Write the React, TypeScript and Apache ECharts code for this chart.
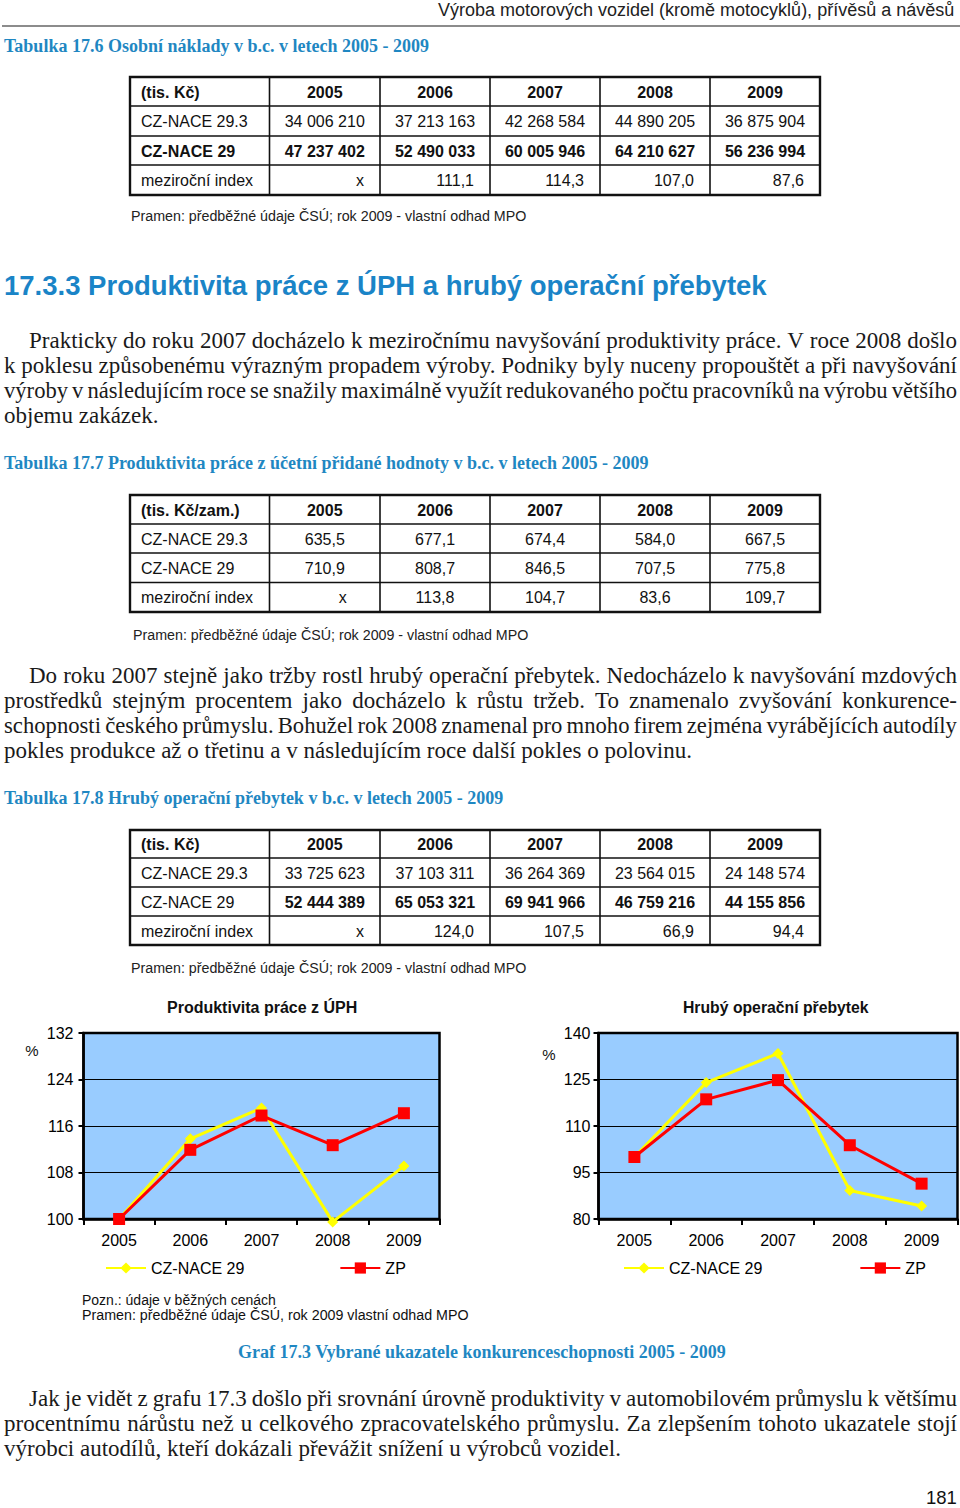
import React, { useEffect, useRef } from "react";
import * as echarts from "echarts";

const SANS = "'Liberation Sans', Arial, Helvetica, sans-serif";
const SERIF = "'Liberation Serif', 'Times New Roman', serif";
const TEAL = "#1f87c2";
const HEAD_BLUE = "#1a84c7";

const YEARS = ["2005", "2006", "2007", "2008", "2009"];
const NAME_A = "CZ-NACE 29";
const NAME_B = "ZP";
const PROD_CZNACE29 = [100, 113.8, 119.1, 99.5, 109.1];
const PROD_ZP = [100, 111.9, 117.8, 112.7, 118.2];
const GOS_CZNACE29 = [100, 124.0, 133.4, 89.2, 84.2];
const GOS_ZP = [100, 118.6, 124.8, 103.8, 91.4];
const PROD_AXIS = { min: 100, max: 132, interval: 8 };
const GOS_AXIS = { min: 80, max: 140, interval: 15 };

const HEADER_TEXT = "Výroba motorových vozidel (kromě motocyklů), přívěsů a návěsů";
const CAP1 = "Tabulka 17.6 Osobní náklady v b.c. v letech 2005 - 2009";
const CAP2 = "Tabulka 17.7 Produktivita práce z účetní přidané hodnoty v b.c. v letech 2005 - 2009";
const CAP3 = "Tabulka 17.8 Hrubý operační přebytek v b.c. v letech 2005 - 2009";
const SOURCE = "Pramen: předběžné údaje ČSÚ; rok 2009 - vlastní odhad MPO";
const HEADING = "17.3.3 Produktivita práce z ÚPH a hrubý operační přebytek";
const CHART1_TITLE = "Produktivita práce z ÚPH";
const CHART2_TITLE = "Hrubý operační přebytek";
const NOTE1 = "Pozn.: údaje v běžných cenách";
const NOTE2 = "Pramen: předběžné údaje ČSÚ, rok 2009 vlastní odhad MPO";
const GRAF_CAP = "Graf 17.3 Vybrané ukazatele konkurenceschopnosti 2005 - 2009";
const PAGE_NO = "181";

const T1_HEAD = ["(tis. Kč)", ...YEARS];
const T1_ROWS = [
  ["CZ-NACE 29.3", "34 006 210", "37 213 163", "42 268 584", "44 890 205", "36 875 904"],
  ["CZ-NACE 29", "47 237 402", "52 490 033", "60 005 946", "64 210 627", "56 236 994"],
  ["meziroční index", "x", "111,1", "114,3", "107,0", "87,6"],
];
const T2_HEAD = ["(tis. Kč/zam.)", ...YEARS];
const T2_ROWS = [
  ["CZ-NACE 29.3", "635,5", "677,1", "674,4", "584,0", "667,5"],
  ["CZ-NACE 29", "710,9", "808,7", "846,5", "707,5", "775,8"],
  ["meziroční index", "x", "113,8", "104,7", "83,6", "109,7"],
];
const T3_HEAD = ["(tis. Kč)", ...YEARS];
const T3_ROWS = [
  ["CZ-NACE 29.3", "33 725 623", "37 103 311", "36 264 369", "23 564 015", "24 148 574"],
  ["CZ-NACE 29", "52 444 389", "65 053 321", "69 941 966", "46 759 216", "44 155 856"],
  ["meziroční index", "x", "124,0", "107,5", "66,9", "94,4"],
];

const PARA1 = [
  "Prakticky do roku 2007 docházelo k meziročnímu navyšování produktivity práce. V roce 2008 došlo",
  "k poklesu způsobenému výrazným propadem výroby. Podniky byly nuceny propouštět a při navyšování",
  "výroby v následujícím roce se snažily maximálně využít redukovaného počtu pracovníků na výrobu většího",
  "objemu zakázek.",
];
const PARA2 = [
  "Do roku 2007 stejně jako tržby rostl hrubý operační přebytek. Nedocházelo k navyšování mzdových",
  "prostředků stejným procentem jako docházelo k růstu tržeb. To znamenalo zvyšování konkurence-",
  "schopnosti českého průmyslu. Bohužel rok 2008 znamenal pro mnoho firem zejména vyrábějících autodíly",
  "pokles produkce až o třetinu a v následujícím roce další pokles o polovinu.",
];
const PARA3 = [
  "Jak je vidět z grafu 17.3 došlo při srovnání úrovně produktivity v automobilovém průmyslu k většímu",
  "procentnímu nárůstu než u celkového zpracovatelského průmyslu. Za zlepšením tohoto ukazatele stojí",
  "výrobci autodílů, kteří dokázali převážit snížení u výrobců vozidel.",
];

const COLS = [130, 269.5, 380, 490, 600, 710, 820];

export default function App() {
  const ref = useRef<HTMLDivElement>(null);

  useEffect(() => {
    document.body.style.margin = "0";
    const canvas = document.createElement("canvas");
    const ctx = canvas.getContext("2d")!;
    const measure = (t: string, size: number, family: string, weight = "normal") => {
      ctx.font = `${weight} ${size}px ${family}`;
      return ctx.measureText(t).width;
    };
    const fit = (t: string, target: number, family: string, weight = "normal") =>
      Math.round((20 * target) / measure(t, 20, family, weight) * 4) / 4;

    const els: any[] = [];
    const txt = (
      text: string, x: number, y: number, size: number,
      o: { family?: string; weight?: string; color?: string; align?: string; scaleX?: number } = {}
    ) => {
      els.push({
        type: "text", x, y, silent: true, scaleX: o.scaleX ?? 1,
        style: {
          text, fontSize: size, fontFamily: o.family ?? SANS, fontWeight: o.weight ?? "normal",
          fill: o.color ?? "#111", align: o.align ?? "left", textAlign: o.align ?? "left",
          verticalAlign: "middle", textVerticalAlign: "middle",
        },
      });
    };
    const fitText = (text: string, x0: number, x1: number, y: number, o: any = {}) => {
      const size = fit(text, x1 - x0, o.family ?? SANS, o.weight ?? "normal");
      txt(text, x0, y, size, o);
    };

    // page header
    fitText(HEADER_TEXT, 438, 957, 10, { color: "#222" });
    els.push({ type: "line", silent: true, shape: { x1: 2, y1: 26, x2: 960, y2: 26 }, style: { stroke: "#8c8c8c", lineWidth: 2 } });

    // tables
    const drawTable = (ys: number[], head: string[], rows: string[][], spec: {
      boldRow?: number; boldValuesRow?: number; rightRow?: number[]; xShift?: number;
    }) => {
      const top = ys[0], bottom = ys[ys.length - 1];
      for (let i = 1; i < ys.length - 1; i++) {
        els.push({ type: "line", silent: true, shape: { x1: COLS[0], y1: ys[i], x2: COLS[6], y2: ys[i] }, style: { stroke: "#111", lineWidth: 1.6 } });
      }
      for (let j = 1; j < COLS.length - 1; j++) {
        els.push({ type: "line", silent: true, shape: { x1: COLS[j], y1: top, x2: COLS[j], y2: bottom }, style: { stroke: "#111", lineWidth: 1.6 } });
      }
      els.push({ type: "rect", silent: true, shape: { x: COLS[0], y: top, width: COLS[6] - COLS[0], height: bottom - top }, style: { fill: "none", stroke: "#111", lineWidth: 2.4 } });
      const all = [head, ...rows];
      all.forEach((row, r) => {
        const cy = (ys[r] + ys[r + 1]) / 2 + 0.5;
        row.forEach((cell, c) => {
          let weight = "normal";
          if (r === 0) weight = "bold";
          if (spec.boldRow === r) weight = "bold";
          if (spec.boldValuesRow === r && c > 0) weight = "bold";
          if (c === 0) {
            txt(cell, COLS[0] + 11, cy, 16, { weight });
          } else if (r > 0 && spec.rightRow && spec.rightRow.includes(r)) {
            txt(cell, COLS[c + 1] - 16, cy, 16, { weight, align: "right" });
          } else {
            let cx = (COLS[c] + COLS[c + 1]) / 2;
            if (cell === "x" && spec.xShift) cx += spec.xShift;
            txt(cell, cx, cy, 16, { weight, align: "center" });
          }
        });
      });
    };

    fitText(CAP1, 4, 428, 46, { family: SERIF, weight: "bold", color: TEAL });
    drawTable([77, 106, 136, 165, 195], T1_HEAD, T1_ROWS, { boldRow: 2, rightRow: [3] });
    fitText(SOURCE, 131, 526, 216, { color: "#222" });

    fitText(HEADING, 4, 767, 285, { weight: "bold", color: HEAD_BLUE });

    // paragraphs
    const pSize = fit(PARA2[3], 685, SERIF);
    const justify = (line: string, x0: number, x1: number, y: number) => {
      const words = line.split(" ");
      const ws = words.map((w) => measure(w, pSize, SERIF));
      const S = ws.reduce((a, b) => a + b, 0);
      const n = words.length;
      let gap = (x1 - x0 - S) / (n - 1);
      let k = 1;
      const minGap = pSize * 0.18;
      if (gap < minGap) {
        k = (x1 - x0) / (S + minGap * (n - 1));
        gap = minGap * k;
      }
      let x = x0;
      words.forEach((w, i) => {
        txt(w, x, y, pSize, { family: SERIF, color: "#1a1a1a", scaleX: k });
        x += ws[i] * k + gap;
      });
    };
    const para = (lines: string[], y0: number) => {
      lines.forEach((line, i) => {
        const y = y0 + i * 25;
        const x0 = i === 0 ? 29 : 4;
        if (i === lines.length - 1) txt(line, x0, y, pSize, { family: SERIF, color: "#1a1a1a" });
        else justify(line, x0, 957, y);
      });
    };
    para(PARA1, 340);

    fitText(CAP2, 4, 647, 463, { family: SERIF, weight: "bold", color: TEAL });
    drawTable([495, 524, 553, 582.5, 612], T2_HEAD, T2_ROWS, { xShift: 18 });
    fitText(SOURCE, 133, 528, 635, { color: "#222" });

    para(PARA2, 675);

    fitText(CAP3, 4, 502, 798, { family: SERIF, weight: "bold", color: TEAL });
    drawTable([830, 858, 887, 916, 945], T3_HEAD, T3_ROWS, { boldValuesRow: 2, rightRow: [3] });
    fitText(SOURCE, 131, 526, 968, { color: "#222" });

    // chart decorations
    fitText(CHART1_TITLE, 167, 357, 1007, { weight: "bold", color: "#111" });
    fitText(CHART2_TITLE, 683, 870, 1007, { weight: "bold", color: "#111" });
    txt("%", 32, 1050, 15, { color: "#111", align: "center" });
    txt("%", 549, 1054, 15, { color: "#111", align: "center" });
    fitText(NOTE1, 82, 277, 1300, { color: "#111" });
    fitText(NOTE2, 82, 467, 1315, { color: "#111" });
    fitText(GRAF_CAP, 238, 725, 1352, { family: SERIF, weight: "bold", color: TEAL });

    para(PARA3, 1398);
    fitText(PAGE_NO, 926, 957, 1497, { color: "#111" });

    const grid = (left: number, width: number) => ({
      left, top: 1033, width, height: 186, show: true,
      backgroundColor: "#99CCFF", borderColor: "#000", borderWidth: 2.5,
    });
    const xAxis = (gi: number) => ({
      type: "category", gridIndex: gi, data: YEARS, boundaryGap: true,
      axisLine: { show: true, lineStyle: { color: "#000", width: 2.5 } },
      axisTick: { show: true, length: 6, lineStyle: { color: "#000", width: 2 } },
      axisLabel: { color: "#000", fontSize: 16, fontFamily: SANS, margin: 13 },
      splitLine: { show: false },
    });
    const yAxis = (gi: number, a: { min: number; max: number; interval: number }, margin: number) => ({
      type: "value", gridIndex: gi, min: a.min, max: a.max, interval: a.interval,
      axisLine: { show: true, lineStyle: { color: "#000", width: 2.5 } },
      axisTick: { show: true, length: 5, lineStyle: { color: "#000", width: 2 } },
      axisLabel: { color: "#000", fontSize: 16, fontFamily: SANS, margin },
      splitLine: { show: true, lineStyle: { color: "#000", width: 1 } },
    });
    const lineSeries = (name: string, gi: number, data: number[], yellow: boolean) => ({
      type: "line", name, xAxisIndex: gi, yAxisIndex: gi, data, clip: false,
      symbol: yellow ? "diamond" : "rect", symbolSize: yellow ? 11 : 12,
      lineStyle: { color: yellow ? "#FFFF00" : "#FF0000", width: 3 },
      itemStyle: { color: yellow ? "#FFFF00" : "#FF0000" },
      z: yellow ? 3 : 4,
    });
    const legend = (left: number, gap: number) => ({
      left, top: 1260, padding: 0, itemWidth: 40, itemHeight: 14, itemGap: gap, selectedMode: false,
      data: [NAME_A, NAME_B],
      textStyle: { fontSize: 16, color: "#000", fontFamily: SANS },
    });

    const chart = echarts.init(ref.current!, null, { renderer: "svg", width: 960, height: 1508 });
    chart.setOption({
      animation: false,
      backgroundColor: "#ffffff",
      grid: [grid(83.5, 356), grid(598.5, 359)],
      xAxis: [xAxis(0), xAxis(1)],
      yAxis: [yAxis(0, PROD_AXIS, 10), yAxis(1, GOS_AXIS, 8)],
      legend: [legend(105, 95), legend(623, 97)],
      series: [
        lineSeries(NAME_A, 0, PROD_CZNACE29, true),
        lineSeries(NAME_B, 0, PROD_ZP, false),
        lineSeries(NAME_A, 1, GOS_CZNACE29, true),
        lineSeries(NAME_B, 1, GOS_ZP, false),
      ],
      graphic: els,
    });
    return () => chart.dispose();
  }, []);

  return <div ref={ref} style={{ width: 960, height: 1508 }} />;
}
